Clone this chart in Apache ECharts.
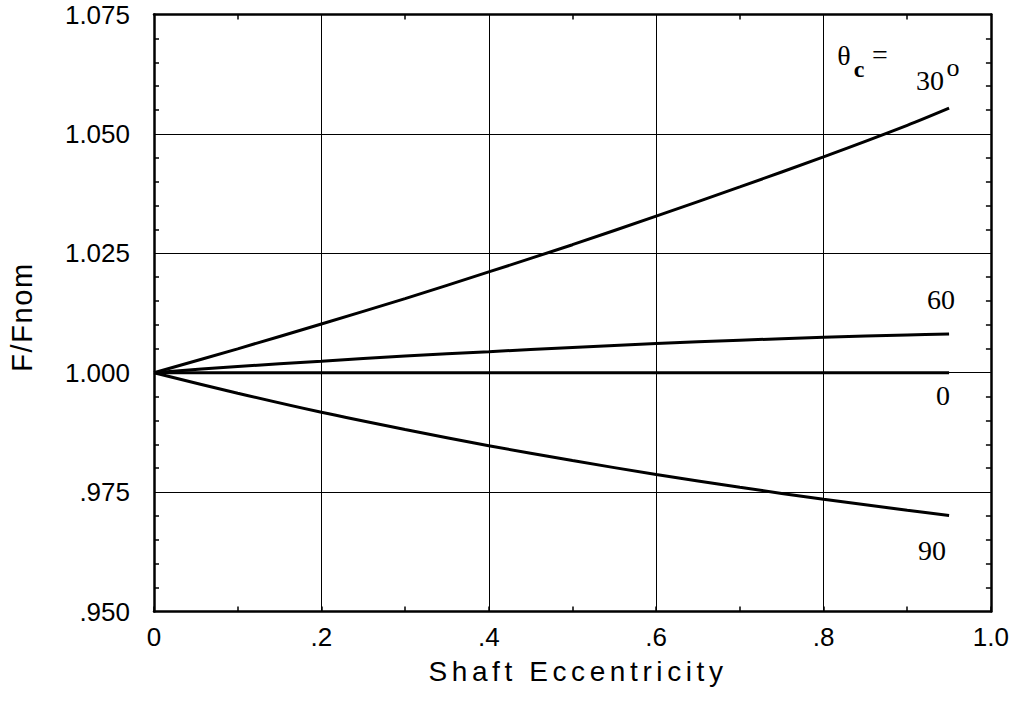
<!DOCTYPE html>
<html>
<head>
<meta charset="utf-8">
<script src="https://cdn.jsdelivr.net/npm/echarts@6/dist/echarts.min.js"></script>
<style>
html,body{margin:0;padding:0;background:#fff;}
#chart{width:1012px;height:709px;}
#chart svg text[style*="Helvetica"], #chart svg text[font-family*="Helvetica"]{letter-spacing:4.6px;}
#chart svg text[style*="Arimo"], #chart svg text[font-family*="Arimo"]{letter-spacing:1.6px;}
</style>
</head>
<body>
<div id="chart"></div>
<script>
// Data
const eccentricity = [0, 0.1, 0.2, 0.3, 0.4, 0.5, 0.6, 0.7, 0.8, 0.9, 0.95];
const theta30 = [1.0, 1.0050, 1.0102, 1.0155, 1.0211, 1.0268, 1.0328, 1.0389, 1.0452, 1.0518, 1.0554];
const theta60 = [1.0, 1.0013, 1.0024, 1.0035, 1.0044, 1.0053, 1.0061, 1.0068, 1.0074, 1.0079, 1.0081];
const theta0  = [1.0, 1.0, 1.0, 1.0, 1.0, 1.0, 1.0, 1.0, 1.0, 1.0, 1.0];
const theta90 = [1.0, 0.9957, 0.9917, 0.9881, 0.9847, 0.9816, 0.9787, 0.9760, 0.9735, 0.9712, 0.9701];
const xTicks = [0, 0.2, 0.4, 0.6, 0.8, 1.0];
const yTicks = [0.950, 0.975, 1.000, 1.025, 1.050, 1.075];
const xTitle = 'Shaft Eccentricity';
const yTitle = 'F/Fnom';

function xFmt(v) {
  if (Math.abs(v) < 1e-9) return '0';
  if (Math.abs(v - 1) < 1e-9) return '1.0';
  return String(Number(v.toFixed(1))).replace(/^0/, '');
}
function yFmt(v) {
  return v.toFixed(3).replace(/^0/, '');
}

const chart = echarts.init(document.getElementById('chart'), null, {renderer: 'svg'});
const sansFont = '"Liberation Sans", Arial, sans-serif';
const xTitleFont = '"Liberation Sans", Helvetica, sans-serif';
const yTitleFont = '"Liberation Sans", Arimo, sans-serif';
const serifFont = '"Liberation Serif", "Times New Roman", serif';

function pairs(ys) { return eccentricity.map((x, i) => [x, ys[i]]); }

const lineStyle = {color: '#000', width: 3};
function mkSeries(name, ys) {
  return {
    name: name, type: 'line', data: pairs(ys), smooth: 0.3,
    showSymbol: false, symbol: 'none', lineStyle: lineStyle,
    xAxisIndex: 0, yAxisIndex: 0, silent: true, animation: false
  };
}

const commonX = {
  type: 'value', min: xTicks[0], max: xTicks[xTicks.length - 1], interval: 0.2,
  axisLine: {show: true, onZero: false, lineStyle: {color: '#000', width: 2.5}},
  axisTick: {show: false, inside: true},
  minorTick: {show: true, splitNumber: 2, length: 5, lineStyle: {color: '#000', width: 1.5}},
  minorSplitLine: {show: false}
};
const commonY = {
  type: 'value', min: yTicks[0], max: yTicks[yTicks.length - 1], interval: 0.025,
  axisLine: {show: true, onZero: false, lineStyle: {color: '#000', width: 2.5}},
  axisTick: {show: false, inside: true},
  minorTick: {show: true, splitNumber: 5, length: 5, lineStyle: {color: '#000', width: 1.5}},
  minorSplitLine: {show: false}
};

const option = {
  backgroundColor: '#fff',
  animation: false,
  grid: {left: 154, right: 21, top: 14.5, bottom: 97.5, containLabel: false},
  xAxis: [
    Object.assign({}, commonX, {
      position: 'bottom',
      axisTick: {show: true, inside: true, length: 5, lineStyle: {color: '#000', width: 1.5}},
      axisLabel: {show: true, formatter: xFmt, margin: 12, color: '#000', fontSize: 26, fontFamily: sansFont},
      splitLine: {show: true, lineStyle: {color: '#000', width: 1}}
    }),
    Object.assign({}, commonX, {
      position: 'top',
      axisLabel: {show: false},
      splitLine: {show: false}
    })
  ],
  yAxis: [
    Object.assign({}, commonY, {
      position: 'left',
      axisLabel: {show: true, formatter: yFmt, margin: 24, color: '#000', fontSize: 26, fontFamily: sansFont},
      splitLine: {show: true, lineStyle: {color: '#000', width: 1}}
    }),
    Object.assign({}, commonY, {
      position: 'right',
      axisLabel: {show: false},
      splitLine: {show: false}
    })
  ],
  series: [
    mkSeries('30', theta30),
    mkSeries('60', theta60),
    mkSeries('0', theta0),
    mkSeries('90', theta90)
  ],
  graphic: [
    {type: 'text', x: 578, y: 671, style: {text: xTitle, font: '28px ' + xTitleFont, fill: '#000', align: 'center', verticalAlign: 'middle'}},
    {type: 'text', x: 22, y: 317, rotation: Math.PI / 2, style: {text: yTitle, font: '29px ' + yTitleFont, fill: '#000', align: 'center', verticalAlign: 'middle'}},
    // curve annotations
    {type: 'text', x: 844, y: 55, style: {text: 'θ', font: '28px ' + serifFont, fill: '#000', align: 'center', verticalAlign: 'middle'}},
    {type: 'text', x: 859, y: 69, style: {text: 'c', font: 'bold 24px ' + serifFont, fill: '#000', align: 'center', verticalAlign: 'middle'}},
    {type: 'text', x: 880, y: 54, style: {text: '=', font: '28px ' + serifFont, fill: '#000', align: 'center', verticalAlign: 'middle'}},
    {type: 'text', x: 930, y: 80, style: {text: '30', font: '28px ' + serifFont, fill: '#000', align: 'center', verticalAlign: 'middle'}},
    {type: 'text', x: 953, y: 67, style: {text: 'o', font: '26px ' + serifFont, fill: '#000', align: 'center', verticalAlign: 'middle'}},
    {type: 'text', x: 941, y: 299, style: {text: '60', font: '28px ' + serifFont, fill: '#000', align: 'center', verticalAlign: 'middle'}},
    {type: 'text', x: 943, y: 395, style: {text: '0', font: '28px ' + serifFont, fill: '#000', align: 'center', verticalAlign: 'middle'}},
    {type: 'text', x: 932, y: 550, style: {text: '90', font: '28px ' + serifFont, fill: '#000', align: 'center', verticalAlign: 'middle'}}
  ]
};
chart.setOption(option);
</script>
</body>
</html>
